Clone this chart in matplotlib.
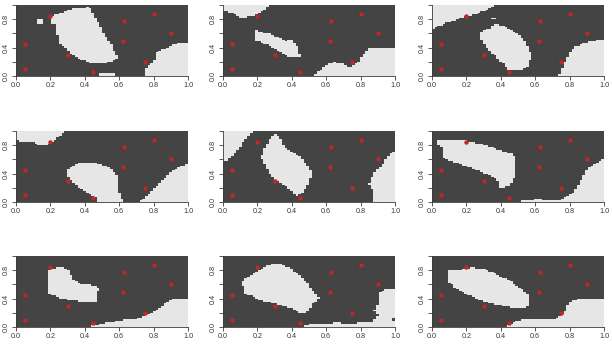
import numpy as np
import matplotlib
matplotlib.use("Agg")
import matplotlib.pyplot as plt
from matplotlib.colors import ListedColormap
from matplotlib.path import Path

# puntos de muestreo (iguales en los nueve paneles)
puntos_x = [0.05, 0.05, 0.20, 0.30, 0.45, 0.62, 0.63, 0.75, 0.80, 0.90]
puntos_y = [0.10, 0.45, 0.85, 0.30, 0.05, 0.50, 0.78, 0.20, 0.88, 0.60]

# contornos de las zonas claras de cada panel
zonas_1 = [
    [(0.42, 0.97), (0.35, 0.955), (0.26, 0.89), (0.22, 0.86), (0.20, 0.81), (0.20, 0.74),
     (0.23, 0.72), (0.24, 0.60), (0.25, 0.46), (0.29, 0.39), (0.33, 0.30), (0.38, 0.23),
     (0.44, 0.18), (0.55, 0.19), (0.59, 0.26), (0.58, 0.32), (0.55, 0.46), (0.51, 0.60),
     (0.48, 0.74), (0.45, 0.86), (0.43, 0.95)],
    [(0.12, 0.73), (0.16, 0.73), (0.16, 0.80), (0.12, 0.80)],
    [(1.0, 0.47), (0.96, 0.47), (0.91, 0.44), (0.87, 0.39), (0.82, 0.33), (0.81, 0.25),
     (0.79, 0.18), (0.76, 0.13), (0.75, 0.0), (1.0, 0.0)],
    [(0.48, 0.0), (0.58, 0.0), (0.58, 0.04), (0.48, 0.04)],
]
zonas_2 = [
    [(0.0, 1.0), (0.0, 0.91), (0.05, 0.89), (0.11, 0.82), (0.15, 0.84), (0.20, 0.86),
     (0.24, 0.93), (0.27, 1.0)],
    [(0.18, 0.65), (0.21, 0.63), (0.26, 0.60), (0.31, 0.56), (0.36, 0.49), (0.39, 0.52),
     (0.41, 0.49), (0.44, 0.37), (0.45, 0.28), (0.42, 0.26), (0.38, 0.27), (0.34, 0.33),
     (0.28, 0.42), (0.22, 0.47), (0.18, 0.51), (0.18, 0.60)],
    [(0.53, 0.0), (0.56, 0.07), (0.60, 0.16), (0.65, 0.19), (0.71, 0.16), (0.73, 0.12),
     (0.75, 0.14), (0.79, 0.21), (0.83, 0.35), (0.86, 0.41), (0.94, 0.41), (1.0, 0.40),
     (1.0, 0.0)],
]
zonas_3 = [
    [(0.0, 1.0), (0.0, 0.65), (0.03, 0.69), (0.07, 0.74), (0.14, 0.79), (0.19, 0.84),
     (0.24, 0.86), (0.30, 0.91), (0.36, 0.98), (0.36, 1.0)],
    [(0.34, 0.80), (0.37, 0.80), (0.37, 0.83), (0.34, 0.83)],
    [(0.36, 0.74), (0.42, 0.70), (0.48, 0.62), (0.53, 0.53), (0.56, 0.41), (0.58, 0.27),
     (0.56, 0.15), (0.51, 0.08), (0.45, 0.08), (0.41, 0.18), (0.35, 0.32), (0.30, 0.46),
     (0.28, 0.55), (0.29, 0.64), (0.34, 0.67)],
    [(0.74, 0.0), (0.76, 0.13), (0.78, 0.23), (0.80, 0.32), (0.83, 0.41), (0.89, 0.47),
     (0.95, 0.50), (1.0, 0.50), (1.0, 0.0)],
]
zonas_4 = [
    [(0.0, 1.0), (0.0, 0.86), (0.05, 0.84), (0.08, 0.85), (0.11, 0.84), (0.14, 0.79),
     (0.18, 0.81), (0.22, 0.86), (0.25, 0.92), (0.28, 1.0)],
    [(0.35, 0.54), (0.41, 0.56), (0.49, 0.54), (0.55, 0.47), (0.59, 0.37), (0.59, 0.18),
     (0.62, 0.04), (0.63, 0.0), (0.47, 0.0), (0.47, 0.06), (0.43, 0.11), (0.38, 0.18),
     (0.33, 0.28), (0.30, 0.37), (0.30, 0.47), (0.33, 0.51)],
    [(0.71, 0.0), (0.74, 0.05), (0.78, 0.13), (0.82, 0.23), (0.86, 0.32), (0.90, 0.42),
     (0.94, 0.49), (1.0, 0.54), (1.0, 0.0)],
]
zonas_5 = [
    [(0.0, 1.0), (0.0, 0.56), (0.03, 0.59), (0.06, 0.66), (0.09, 0.75), (0.12, 0.85),
     (0.15, 0.94), (0.18, 1.0)],
    [(0.30, 0.97), (0.33, 0.92), (0.35, 0.80), (0.40, 0.70), (0.45, 0.63), (0.49, 0.51),
     (0.52, 0.40), (0.50, 0.28), (0.47, 0.16), (0.44, 0.09), (0.42, 0.10), (0.36, 0.23),
     (0.30, 0.32), (0.25, 0.49), (0.22, 0.63), (0.24, 0.75), (0.27, 0.89)],
    [(1.0, 0.73), (0.98, 0.70), (0.95, 0.61), (0.92, 0.51), (0.88, 0.42), (0.86, 0.32),
     (0.85, 0.25), (0.87, 0.16), (0.88, 0.0), (1.0, 0.0)],
]
zonas_6 = [
    [(0.035, 0.87), (0.16, 0.87), (0.23, 0.85), (0.31, 0.80), (0.40, 0.73), (0.46, 0.68),
     (0.49, 0.61), (0.49, 0.49), (0.48, 0.35), (0.45, 0.23), (0.40, 0.20), (0.38, 0.30),
     (0.34, 0.37), (0.27, 0.44), (0.19, 0.51), (0.13, 0.56), (0.06, 0.63), (0.06, 0.77),
     (0.035, 0.81)],
    [(0.52, 0.0), (0.52, 0.02), (0.62, 0.04), (0.69, 0.02), (0.73, 0.02), (0.77, 0.06),
     (0.81, 0.11), (0.84, 0.18), (0.86, 0.28), (0.88, 0.37), (0.91, 0.48), (0.95, 0.54),
     (1.0, 0.60), (1.0, 0.0)],
]
zonas_7 = [
    [(0.22, 0.83), (0.28, 0.84), (0.31, 0.79), (0.33, 0.67), (0.37, 0.61), (0.43, 0.59),
     (0.48, 0.56), (0.49, 0.50), (0.47, 0.50), (0.47, 0.36), (0.37, 0.36), (0.32, 0.38),
     (0.27, 0.40), (0.23, 0.43), (0.18, 0.48), (0.18, 0.76), (0.20, 0.81)],
    [(0.43, 0.0), (0.47, 0.03), (0.55, 0.07), (0.63, 0.10), (0.72, 0.13), (0.78, 0.19),
     (0.83, 0.26), (0.87, 0.33), (0.91, 0.39), (0.96, 0.41), (1.0, 0.41), (1.0, 0.0)],
]
zonas_8 = [
    [(0.28, 0.88), (0.33, 0.89), (0.39, 0.83), (0.44, 0.74), (0.49, 0.62), (0.53, 0.50),
     (0.56, 0.40), (0.52, 0.33), (0.50, 0.24), (0.48, 0.19), (0.44, 0.20), (0.41, 0.26),
     (0.33, 0.31), (0.25, 0.36), (0.19, 0.40), (0.13, 0.48), (0.11, 0.64), (0.15, 0.71),
     (0.21, 0.81)],
    [(0.46, 0.0), (0.47, 0.03), (0.63, 0.05), (0.67, 0.07), (0.70, 0.05), (0.86, 0.06),
     (0.88, 0.10), (0.90, 0.17), (0.88, 0.24), (0.90, 0.31), (0.90, 0.45), (0.92, 0.51),
     (0.96, 0.54), (1.0, 0.54), (1.0, 0.14), (0.98, 0.14), (0.98, 0.09), (1.0, 0.09),
     (1.0, 0.0)],
]
zonas_9 = [
    [(0.10, 0.79), (0.17, 0.81), (0.23, 0.84), (0.30, 0.82), (0.36, 0.76), (0.44, 0.67),
     (0.50, 0.57), (0.55, 0.48), (0.57, 0.38), (0.56, 0.29), (0.51, 0.26), (0.42, 0.29),
     (0.34, 0.33), (0.26, 0.40), (0.18, 0.48), (0.13, 0.57), (0.10, 0.62)],
    [(0.43, 0.0), (0.48, 0.07), (0.52, 0.11), (0.56, 0.10), (0.71, 0.10), (0.75, 0.17),
     (0.78, 0.24), (0.79, 0.33), (0.83, 0.38), (0.89, 0.41), (1.0, 0.41), (1.0, 0.0)],
]

paneles = [zonas_1, zonas_2, zonas_3, zonas_4, zonas_5, zonas_6, zonas_7, zonas_8, zonas_9]

NX, NY = 64, 45  # resolucion de la malla
OSCURO = "#444444"
CLARO = "#e6e6e6"
ROJO = "#c0262b"
TEXTO = "#3a3a3a"

plt.rcParams["font.family"] = ["Liberation Sans", "DejaVu Sans"]


def mascara(zonas):
    cx = (np.arange(NX) + 0.5) / NX
    cy = (np.arange(NY) + 0.5) / NY
    gx, gy = np.meshgrid(cx, cy)
    pts = np.column_stack([gx.ravel(), gy.ravel()])
    m = np.zeros(NX * NY, dtype=bool)
    for z in zonas:
        m |= Path(z).contains_points(pts)
    return m.reshape(NY, NX).astype(int)


fig = plt.figure(figsize=(6.12, 3.53), dpi=100)
izq = [16, 223, 432]
arriba = [5, 131, 256]
ancho, alto = 172, 71

cmap = ListedColormap([OSCURO, CLARO])
for k, zonas in enumerate(paneles):
    fila, col = divmod(k, 3)
    ax = fig.add_axes([izq[col] / 612, 1 - (arriba[fila] + alto) / 353,
                       ancho / 612, alto / 353])
    ax.imshow(mascara(zonas), extent=[0, 1, 0, 1], origin="lower", cmap=cmap,
              vmin=0, vmax=1, interpolation="nearest", aspect="auto")
    ax.plot(puntos_x, puntos_y, "o", color=ROJO, markersize=3.2, markeredgewidth=0)
    ax.set_xlim(0, 1)
    ax.set_ylim(0, 1)
    ax.set_xticks([0, 0.2, 0.4, 0.6, 0.8, 1.0])
    ax.set_xticklabels(["0.0", "0.2", "0.4", "0.6", "0.8", "1.0"])
    ax.set_yticks([0, 0.2, 0.4, 0.6, 0.8, 1.0])
    ax.set_yticklabels(["0.0", "", "0.4", "", "0.8", ""], rotation=90, va="center")
    ax.tick_params(length=3, width=0.6, pad=1.5, labelsize=5.2,
                   colors=TEXTO, labelcolor=TEXTO)
    for s in ["top", "right"]:
        ax.spines[s].set_visible(False)
    for s in ["left", "bottom"]:
        ax.spines[s].set_linewidth(0.6)
        ax.spines[s].set_color(TEXTO)

fig.savefig("out.png", dpi=100)
